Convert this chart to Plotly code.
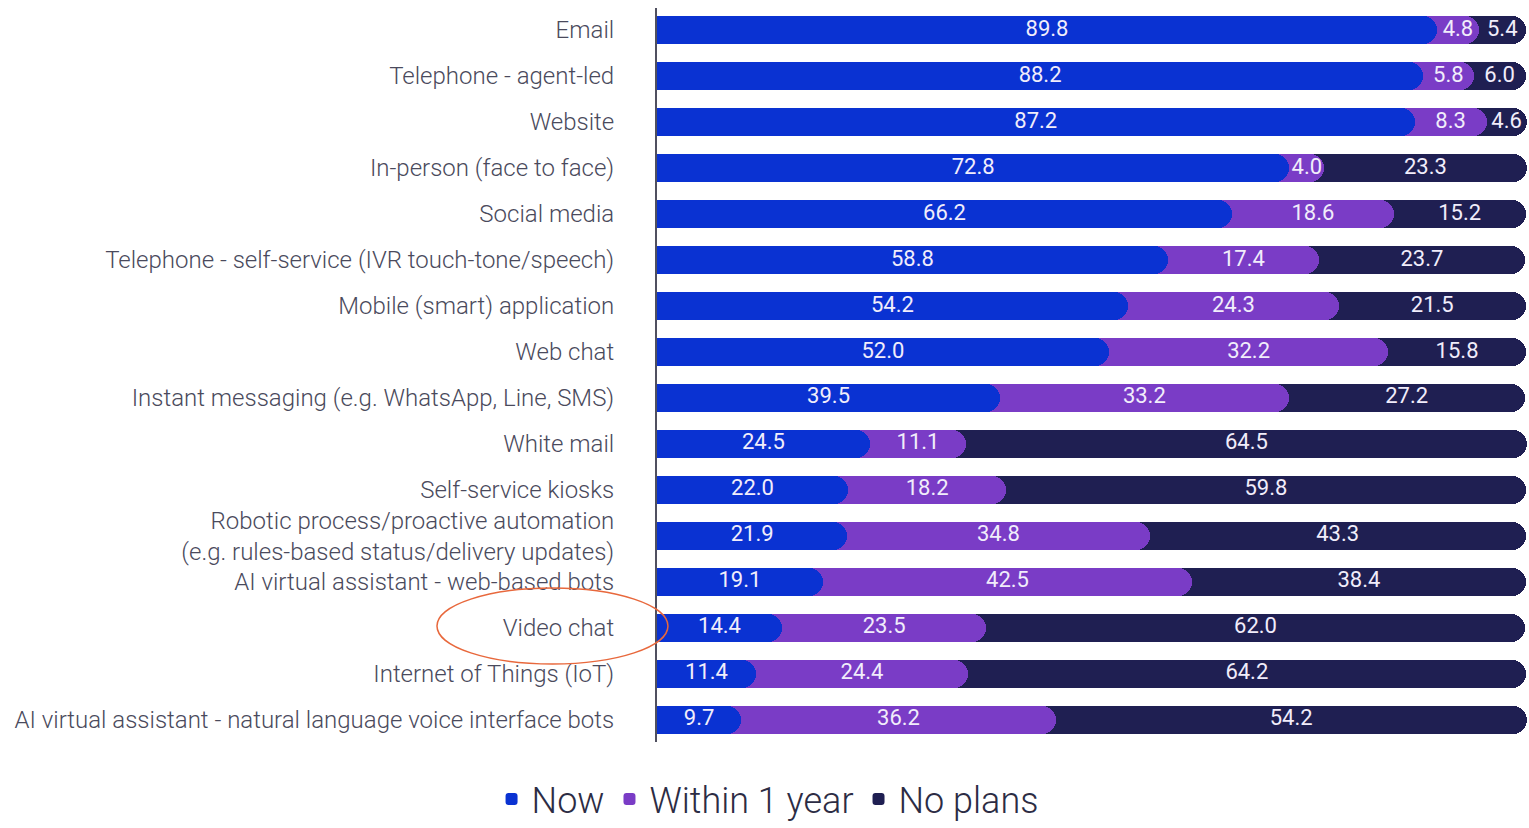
import plotly.graph_objects as go

categories = [
    "Email",
    "Telephone - agent-led",
    "Website",
    "In-person (face to face)",
    "Social media",
    "Telephone - self-service (IVR touch-tone/speech)",
    "Mobile (smart) application",
    "Web chat",
    "Instant messaging (e.g. WhatsApp, Line, SMS)",
    "White mail",
    "Self-service kiosks",
    "Robotic process/proactive automation<br>(e.g. rules-based status/delivery updates)",
    "AI virtual assistant - web-based bots",
    "Video chat",
    "Internet of Things (IoT)",
    "AI virtual assistant - natural language voice interface bots",
]
now = [89.8, 88.2, 87.2, 72.8, 66.2, 58.8, 54.2, 52.0, 39.5, 24.5, 22.0, 21.9, 19.1, 14.4, 11.4, 9.7]
within_1_year = [4.8, 5.8, 8.3, 4.0, 18.6, 17.4, 24.3, 32.2, 33.2, 11.1, 18.2, 34.8, 42.5, 23.5, 24.4, 36.2]
no_plans = [5.4, 6.0, 4.6, 23.3, 15.2, 23.7, 21.5, 15.8, 27.2, 64.5, 59.8, 43.3, 38.4, 62.0, 64.2, 54.2]

BLUE = "#0a32d2"
PURPLE = "#7a3cc6"
NAVY = "#1f1f52"
LABEL = "#f1edfb"

# Bars start a little left of the axis so their rounded left caps are
# clipped away and only the right ends stay rounded.
LEFT_PAD = 3.0

# cumulative ends so each segment's rounded cap overlaps the next one
end_now = now
end_within = [a + b for a, b in zip(now, within_1_year)]
end_all = [a + b + c for a, b, c in zip(now, within_1_year, no_plans)]

fig = go.Figure()
series = [
    ("No plans", end_all, NAVY, 3),
    ("Within 1 year", end_within, PURPLE, 2),
    ("Now", end_now, BLUE, 1),
]
for name, ends, color, rank in series:
    fig.add_trace(go.Bar(
        y=categories, x=[e + LEFT_PAD for e in ends], base=-LEFT_PAD,
        orientation="h", name=name,
        marker=dict(color=color, line=dict(width=0)), width=0.61,
        legendrank=rank, hoverinfo="skip",
    ))

# segment value labels at the middle of each segment
mid_now = [v / 2 for v in now]
mid_within = [a + b / 2 for a, b in zip(now, within_1_year)]
mid_no = [a + b + c / 2 for a, b, c in zip(now, within_1_year, no_plans)]
for mids, vals in [(mid_now, now), (mid_within, within_1_year), (mid_no, no_plans)]:
    fig.add_trace(go.Scatter(
        y=categories, x=mids, mode="text",
        text=[f"{v:.1f}" for v in vals],
        textfont=dict(family="Roboto", size=22, color=LABEL),
        showlegend=False, hoverinfo="skip", cliponaxis=False,
    ))

# highlight ring around the Video chat label
fig.add_shape(
    type="circle", xref="paper", yref="paper",
    x0=-0.2529, x1=0.0126, y0=0.1063, y1=0.2098,
    line=dict(color="#e8683c", width=1.5), layer="above",
)

fig.update_layout(
    width=1529, height=828,
    margin=dict(l=657, r=2, t=8, b=86, autoexpand=False),
    paper_bgcolor="white", plot_bgcolor="white",
    barmode="overlay", barcornerradius="50%",
    bargap=0,
    font=dict(family="Roboto", color="#3f3f55"),
    xaxis=dict(range=[0, 100.15], visible=False, fixedrange=True),
    yaxis=dict(
        type="category", range=[15.48, -0.48],
        showline=True, linecolor="#505060", linewidth=2,
        showgrid=False, zeroline=False, ticks="", ticklabelstandoff=36,
        tickfont=dict(family="Roboto", size=24, color="#4a4a5c", weight=300),
    ),
    legend=dict(
        orientation="h", xref="container", yref="container",
        x=0.502, xanchor="center", y=0.035, yanchor="middle",
        font=dict(family="Roboto", size=36, color="#2c2c44", weight=300),
        traceorder="normal",
    ),
)

fig.write_html("out.html")
